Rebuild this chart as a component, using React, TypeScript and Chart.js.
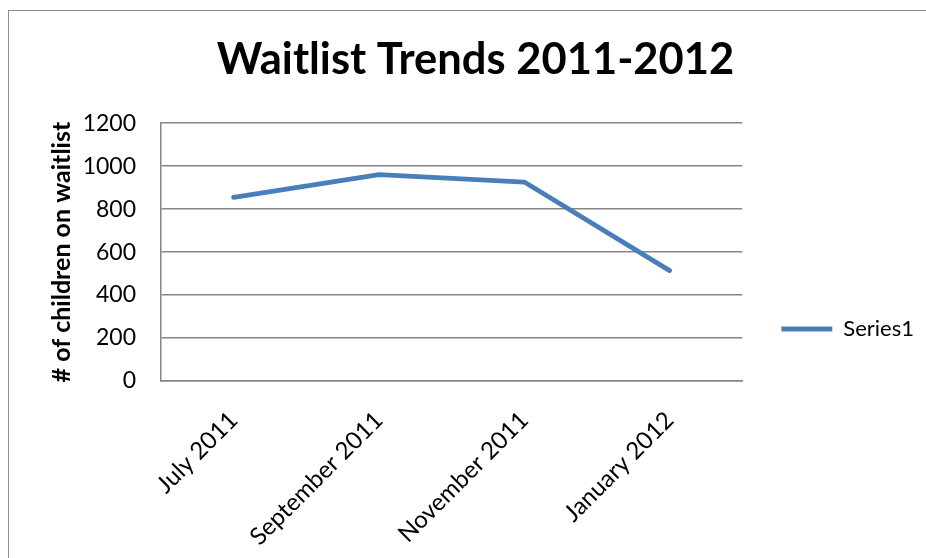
import React, { useEffect, useRef } from "react";
import { Chart, registerables } from "chart.js";

Chart.register(...registerables);

const categories = ["July 2011", "September 2011", "November 2011", "January 2012"];
const series1 = [855, 961, 926, 514];
const seriesName = "Series1";
const titleText = "Waitlist Trends 2011-2012";
const yAxisTitle = "# of children on waitlist";
const yMin = 0;
const yMax = 1200;
const yStep = 200;

const FONT = "Lato, 'Open Sans', sans-serif";
const GRID = "#868686";

export default function App() {
  const ref = useRef<HTMLCanvasElement | null>(null);

  useEffect(() => {
    if (!ref.current) return;
    const chart = new Chart(ref.current, {
      type: "line",
      data: {
        labels: categories,
        datasets: [
          {
            label: seriesName,
            data: series1,
            borderColor: "#4A7EBB",
            backgroundColor: "#4A7EBB",
            borderWidth: 4.8,
            borderCapStyle: "round",
            borderJoinStyle: "round",
            pointRadius: 0,
            pointHoverRadius: 0,
            tension: 0,
            fill: false,
          },
        ],
      },
      options: {
        animation: false,
        responsive: false,
        maintainAspectRatio: false,
        devicePixelRatio: 1,
        layout: { padding: { left: 18, right: 2, top: 0, bottom: 0 } },
        plugins: {
          tooltip: { enabled: false },
          title: {
            display: true,
            text: titleText,
            color: "#000",
            font: { family: FONT, size: 43.5, weight: "bold", lineHeight: 1.2 },
            padding: { top: 23, bottom: 37 },
          },
          legend: {
            display: true,
            position: "right",
            align: "center",
            labels: {
              usePointStyle: true,
              pointStyle: "line",
              pointStyleWidth: 51,
              padding: 39,
              color: "#000",
              font: { family: FONT, size: 22 },
            },
          },
        },
        scales: {
          x: {
            type: "category",
            offset: true,
            grid: { display: false, drawTicks: false },
            border: { display: true, color: GRID, width: 1.5 },
            ticks: {
              autoSkip: false,
              minRotation: 45,
              maxRotation: 45,
              padding: 25,
              color: "#000",
              font: { family: FONT, size: 24 },
            },
            afterFit: (scale: any) => {
              scale.height = 266;
            },
          },
          y: {
            min: yMin,
            max: yMax,
            grid: { display: true, color: GRID, lineWidth: 1.5, drawTicks: false },
            border: { display: true, color: GRID, width: 1.5 },
            ticks: {
              stepSize: yStep,
              padding: 25,
              color: "#000",
              font: { family: FONT, size: 23 },
              callback: (value: any) => String(value),
            },
            title: {
              display: true,
              text: yAxisTitle,
              color: "#000",
              font: { family: FONT, size: 25, weight: "bold", lineHeight: 1.2 },
              padding: { top: 20, bottom: 4 },
            },
            afterFit: (scale: any) => {
              scale.width = 134;
            },
          },
        },
      },
    });
    return () => chart.destroy();
  }, []);

  return (
    <div
      style={{
        position: "absolute",
        left: 8,
        top: 10,
        width: 918,
        height: 548,
        overflow: "hidden",
        borderTop: "1px solid #8c8c8c",
        borderLeft: "1px solid #8c8c8c",
        boxSizing: "border-box",
        background: "#fff",
      }}
    >
      <canvas ref={ref} width={917} height={636} style={{ display: "block", width: 917, height: 636 }} />
    </div>
  );
}
